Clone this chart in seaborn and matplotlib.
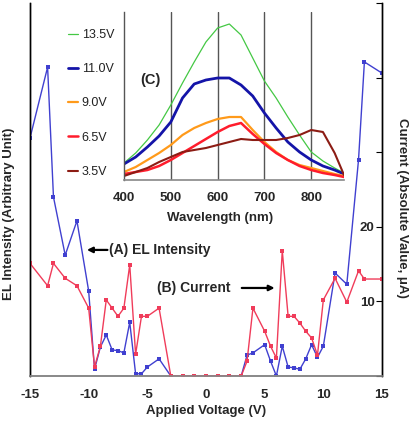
import numpy as np
import pandas as pd
import seaborn as sns
import matplotlib
matplotlib.use('Agg')
import matplotlib.pyplot as plt

sns.set_style('white')
plt.rcParams['font.family'] = ['Liberation Sans', 'DejaVu Sans']
plt.rcParams['axes.unicode_minus'] = False

# applied voltage (V) for both sweeps
voltage = [-15, -13.5, -13, -12, -11, -10, -9.5, -9, -8.5, -8, -7.5, -7, -6.5, -6,
           -5.5, -5, -4, -3, -2, -1, 0, 1, 2, 3, 3.5, 4, 5, 5.5, 6, 6.5, 7, 7.5,
           8, 8.5, 9, 9.5, 10, 11, 12, 13, 13.5, 15]
# (A) EL intensity, arbitrary units (drawn on same 0-50 scale)
el_intensity = [31.9, 41.4, 24.0, 16.2, 20.8, 11.4, 0.9, 3.9, 5.5, 3.5, 3.4, 3.1, 7.2, 0.3,
                0.3, 1.2, 2.3, 0, 0, 0, 0, 0, 0, 0, 2.8, 3.1, 4.2, 2.0, 0, 4.0, 1.2, 1.1,
                0.9, 2.3, 4.2, 2.5, 4.0, 13.8, 12.3, 29.0, 42.1, 40.6]
# (B) current, absolute value in uA
current = [15.1, 12.1, 15.1, 13.1, 12.1, 9.1, 1.2, 4.0, 10.2, 9.1, 8.0, 9.1, 14.9, 2.9,
           8.0, 8.0, 9.1, 0, 0, 0, 0, 0, 0, 0, 2.0, 9.1, 6.0, 4.0, 2.4, 16.8, 8.0, 8.0,
           7.1, 6.0, 5.1, 2.8, 10.2, 13.1, 9.9, 14.1, 13.0, 13.0]

# (C) EL spectra
wavelength = [400, 425, 450, 475, 500, 525, 550, 575, 600, 625, 650, 675, 700, 725,
              750, 775, 800, 825, 850, 870]
spec_13_5 = [17, 27, 40, 55, 75, 97, 118, 138, 152, 156, 145, 122, 99, 82,
             63, 45, 28, 19, 12, 7]
spec_11_0 = [16, 23, 33, 44, 58, 82, 96, 100, 102, 102, 95, 84, 67, 52,
             38, 28, 20, 14, 10, 6]
spec_9_0 = [8, 13, 20, 27, 35, 45, 52, 57, 61, 63, 63, 50, 38, 28,
            20, 15, 12, 9, 6, 4]
spec_6_5 = [6, 8, 10, 14, 20, 27, 34, 41, 48, 54, 57, 46, 36, 27,
            20, 14, 10, 7, 5, 3]
spec_3_5 = [4, 8, 12, 18, 23, 28, 30, 32, 35, 38, 41, 40, 40, 40,
            42, 45, 50, 48, 27, 5]
spec_labels = ['13.5V', '11.0V', '9.0V', '6.5V', '3.5V']
spec_colors = ['#44c844', '#1414a8', '#ff9a1a', '#ff1c2c', '#8c1c14']
spec_widths = [0.9, 2.0, 1.6, 1.8, 1.5]

fig = plt.figure(figsize=(4.1, 4.22), dpi=100)
ax = fig.add_axes([30/410, 1-376/422, 352/410, 373/422])
ax2 = ax.twinx()

sns.lineplot(x=voltage, y=el_intensity, ax=ax, color='#4040d0', lw=1,
             marker='s', markersize=2.5, markeredgewidth=0, estimator=None)
sns.lineplot(x=voltage, y=current, ax=ax2, color='#f03c5a', lw=1,
             marker='s', markersize=2.5, markeredgewidth=0, estimator=None)

for a in (ax, ax2):
    a.set_xlim(-15, 15)
    a.set_ylim(0, 50)
    a.spines['top'].set_visible(False)
    a.spines['left'].set_color('black')
    a.spines['right'].set_color('black')
    a.spines['bottom'].set_color('#888888')
    a.spines['left'].set_linewidth(1)
    a.spines['right'].set_linewidth(1)
    a.spines['bottom'].set_linewidth(1.2)
ax.set_yticks([])
ax.set_xticks([-15, -10, -5, 0, 5, 10, 15])
ax.tick_params(axis='x', direction='in', length=4, color='#888888', pad=9,
               labelsize=9.5)
for t in ax.get_xticklabels():
    t.set_fontweight('bold')

ax2.set_yticks([0, 10, 20, 30, 40, 50])
ax2.set_yticklabels(['', '10', '20', '', '', ''])
ax2.tick_params(axis='y', direction='in', length=4, color='black', pad=-16,
                labelsize=9.5)
for t in ax2.get_yticklabels():
    t.set_fontweight('bold')

ax.set_xlabel('Applied Voltage (V)', fontsize=9.5, fontweight='bold', va='center')
ax.xaxis.set_label_coords(0.5, (376-411)/373)
ax.set_ylabel('EL Intensity (Arbitrary Unit)', fontsize=9.5, fontweight='bold',
              rotation=90, ha='center', va='center')
ax.yaxis.set_label_coords((9-30)/352, (376-214)/373)
ax2.set_ylabel('Current (Absolute Value, \u03bcA)', fontsize=9.5, fontweight='bold',
               rotation=270, ha='center', va='center')
ax2.yaxis.set_label_coords((402-30)/352, (376-208)/373)

# annotations
ax2.annotate('', xy=(-10.15, 16.9), xytext=(-8.4, 16.9),
             arrowprops=dict(arrowstyle='-|>', color='black', lw=1.6, mutation_scale=8,
                             shrinkA=0, shrinkB=0))
ax2.text(-8.3, 16.9, '(A) EL Intensity', fontsize=10, fontweight='bold',
         ha='left', va='center')
ax2.annotate('', xy=(5.85, 11.8), xytext=(3.05, 11.8),
             arrowprops=dict(arrowstyle='-|>', color='black', lw=1.6, mutation_scale=8,
                             shrinkA=0, shrinkB=0))
ax2.text(2.05, 11.8, '(B) Current', fontsize=10, fontweight='bold',
         ha='right', va='center')

# inset (C)
axin = fig.add_axes([124/410, 1-180/422, 220/410, 168/422])
axin.set_facecolor('none')
spectra = [spec_13_5, spec_11_0, spec_9_0, spec_6_5, spec_3_5]
for vals, lab, col, w in zip(spectra, spec_labels, spec_colors, spec_widths):
    sns.lineplot(x=wavelength, y=vals, ax=axin, color=col, lw=w, label=lab,
                 estimator=None)
if axin.get_legend() is not None:
    axin.get_legend().remove()
axin.set_xlim(400, 870)
axin.set_ylim(0, 168)
axin.set_yticks([])
axin.set_xticks([400, 500, 600, 700, 800])
for xv in [500, 600, 700, 800]:
    axin.axvline(xv, color='#555555', lw=1, zorder=0)
axin.tick_params(axis='x', length=0, pad=9, labelsize=9.5)
for t in axin.get_xticklabels():
    t.set_fontweight('bold')
axin.spines['top'].set_visible(False)
axin.spines['right'].set_visible(False)
axin.spines['left'].set_color('#555555')
axin.spines['bottom'].set_color('#888888')
axin.spines['left'].set_linewidth(1)
axin.spines['bottom'].set_linewidth(1.2)
axin.set_xlabel('Wavelength (nm)', fontsize=9.5, fontweight='bold', va='center')
axin.xaxis.set_label_coords((220-124)/220, (180-218)/168)
axin.text(457, 100, '(C)', fontsize=10.5, fontweight='bold', ha='center', va='center')

handles, labels = axin.get_legend_handles_labels()
fig.legend(handles, labels, loc='upper left', bbox_to_anchor=(68/410, 1-29/422),
           frameon=False, fontsize=9, handlelength=0.8, handletextpad=0.3,
           labelspacing=1.78, borderpad=0, borderaxespad=0, labelcolor='#222222')

fig.savefig('out.png', dpi=100)
